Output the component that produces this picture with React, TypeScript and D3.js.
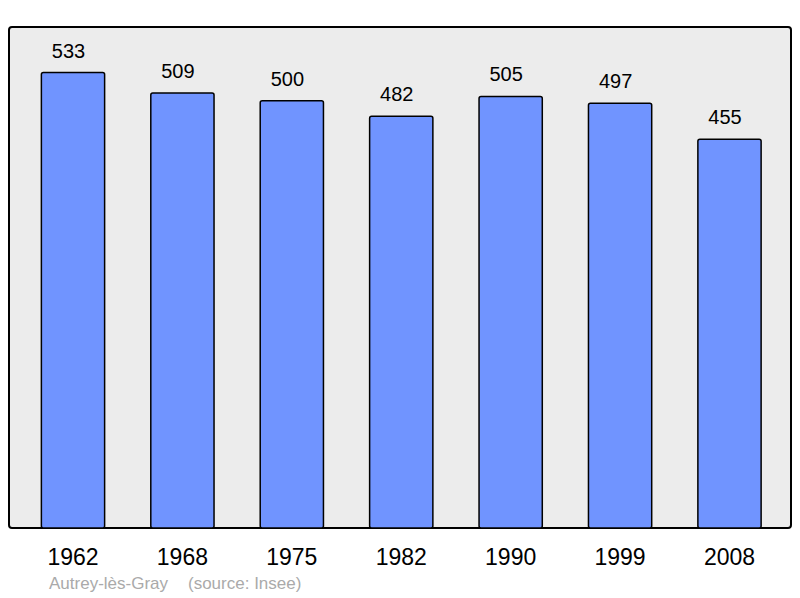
import React from "react";
import * as d3 from "d3";

const years = ["1962", "1968", "1975", "1982", "1990", "1999", "2008"];
const population = [533, 509, 500, 482, 505, 497, 455];
const footerName = "Autrey-lès-Gray";
const footerSource = "(source: Insee)";

const W = 800;
const H = 598;
const plot = { left: 9, top: 27, right: 791, bottom: 528 };

export default function App() {
  const x = d3.scalePoint<string>().domain(years).range([73, 729.5]);
  const bw = x.step() * 0.578;
  const y = d3
    .scaleLinear()
    .domain([0, d3.max(population)! * 1.1])
    .range([plot.bottom, plot.top]);
  const font = "'Liberation Sans', Arial, sans-serif";
  return (
    <svg
      width={W}
      height={H}
      style={{ position: "absolute", left: 0, top: 0 }}
      fontFamily={font}
    >
      <rect x={0} y={0} width={W} height={H} fill="#ffffff" />
      <rect
        x={plot.left}
        y={plot.top}
        width={plot.right - plot.left}
        height={plot.bottom - plot.top}
        fill="#ececec"
        stroke="#000"
        strokeWidth={2}
        rx={3}
      />
      {years.map((yr, i) => {
        const v = population[i];
        const cx = x(yr)!;
        return (
          <g key={yr}>
            <rect
              x={cx - bw / 2}
              y={y(v)}
              width={bw}
              height={plot.bottom - y(v)}
              fill="#7094ff"
              stroke="#000"
              strokeWidth={1.5}
              rx={2}
            />
            <text
              x={cx - 4.5}
              y={y(v) - 15}
              textAnchor="middle"
              fontSize={20}
              fill="#000"
            >
              {v}
            </text>
            <text x={cx} y={565} textAnchor="middle" fontSize={23} fill="#000">
              {yr}
            </text>
          </g>
        );
      })}
      <text x={49} y={589} fontSize={17} fill="#aaaaaa">
        {footerName}
      </text>
      <text x={188} y={589} fontSize={17} fill="#aaaaaa">
        {footerSource}
      </text>
    </svg>
  );
}
